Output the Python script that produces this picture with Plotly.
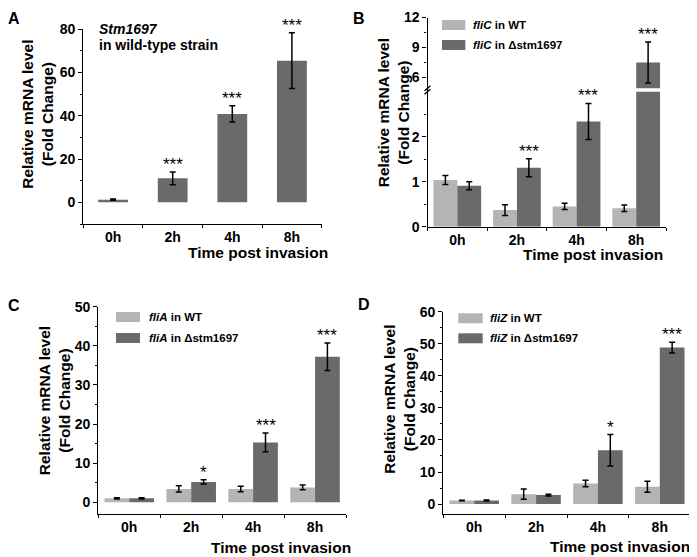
import plotly.graph_objects as go

W, H = 697, 557
OFF = 8  # page body margin offset compensation

categories = ["0h", "2h", "4h", "8h"]

# Panel A: Stm1697 in wild-type strain
a_values = [1.25, 11.1, 40.9, 65.5]
a_err = [0.3, 2.9, 3.8, 12.9]
a_stars = ["", "***", "***", "***"]

# Panel B: fliC
b_wt = [1.04, 0.37, 0.45, 0.41]
b_wt_err = [0.10, 0.12, 0.07, 0.07]
b_mut = [0.91, 1.31, 2.34, 7.5]
b_mut_err = [0.09, 0.20, 0.40, 2.05]
b_stars = ["", "***", "***", "***"]

# Panel C: fliA
c_wt = [1.0, 3.4, 3.4, 3.8]
c_wt_err = [0.15, 0.8, 0.7, 0.6]
c_mut = [1.0, 5.2, 15.3, 37.2]
c_mut_err = [0.15, 0.55, 2.4, 3.5]
c_stars = ["", "*", "***", "***"]

# Panel D: fliZ
d_wt = [1.1, 3.1, 6.4, 5.4]
d_wt_err = [0.1, 1.6, 1.0, 1.7]
d_mut = [1.1, 2.8, 16.8, 48.8]
d_mut_err = [0.15, 0.3, 4.9, 1.7]
d_stars = ["", "", "*", "***"]

LIGHT = "#b4b4b4"
DARK = "#6a6a6a"
FONT = "Liberation Sans, Arial, sans-serif"


def fx(p):
    return (p - OFF) / W


def fy(p):
    return 1 - (p - OFF) / H


fig = go.Figure()

err_style = dict(type="data", symmetric=True, color="black", thickness=1.5, width=3)


def add_bar(x_ax, y_ax, vals, errs, color, offset, width):
    fig.add_trace(go.Bar(
        x=categories, y=vals, xaxis=x_ax, yaxis=y_ax,
        marker=dict(color=color, line=dict(width=0)),
        offset=offset, width=width,
        error_y=dict(array=errs, **err_style),
        showlegend=False,
    ))


# A
add_bar("x", "y", a_values, a_err, DARK, -0.25, 0.5)
# B lower + upper (broken axis)
add_bar("x2", "y2", b_wt, b_wt_err, LIGHT, -0.4, 0.4)
add_bar("x2", "y2", b_mut, b_mut_err, DARK, 0.0, 0.4)
add_bar("x2", "y3", b_wt, b_wt_err, LIGHT, -0.4, 0.4)
add_bar("x2", "y3", b_mut, b_mut_err, DARK, 0.0, 0.4)
# C
add_bar("x3", "y4", c_wt, c_wt_err, LIGHT, -0.4, 0.4)
add_bar("x3", "y4", c_mut, c_mut_err, DARK, 0.0, 0.4)
# D
add_bar("x4", "y5", d_wt, d_wt_err, LIGHT, -0.4, 0.4)
add_bar("x4", "y5", d_mut, d_mut_err, DARK, 0.0, 0.4)

tickfont = dict(family=FONT, size=14, color="black", weight="bold")
common = dict(showline=True, linecolor="black", linewidth=1.3, ticks="outside",
              tickwidth=1.2, tickcolor="black", showgrid=False, zeroline=False,
              tickfont=tickfont, fixedrange=True, automargin=False)


def xaxis(dom, anchor):
    return dict(domain=[fx(dom[0]), fx(dom[1])], anchor=anchor, type="category",
                categoryorder="array", categoryarray=categories,
                range=[-0.5, 3.5], tickson="boundaries", ticklen=3, **common)


def yaxis(dom, anchor, rng, dtick, minor, tickvals=None):
    d = dict(domain=[fy(dom[1]), fy(dom[0])], anchor=anchor, range=rng, ticklen=4,
             minor=dict(ticks="outside", ticklen=2, tickcolor="black", showgrid=False, **minor),
             **common)
    if tickvals is not None:
        d["tickmode"] = "array"
        d["tickvals"] = tickvals
    else:
        d["dtick"] = dtick
        d["tick0"] = 0
    return d


fig.update_layout(
    width=W, height=H, margin=dict(l=0, r=0, t=0, b=0, autoexpand=False),
    paper_bgcolor="white", plot_bgcolor="rgba(0,0,0,0)",
    barmode="overlay", showlegend=False,
    font=dict(family=FONT, color="black"),
    xaxis=xaxis((83.3, 321.7), "y"),
    yaxis=yaxis((29.3, 224.0), "x", [-10, 80], 20, dict(dtick=10, tick0=0)),
    xaxis2=xaxis((427.5, 666.0), "y2"),
    yaxis2=yaxis((91.7, 226.7), "x2", [0, 3], 1,
                 dict(tickmode="array", tickvals=[0.5, 1.5, 2.5]), tickvals=[0, 1, 2]),
    yaxis3=yaxis((17.5, 88.3), "x2", [4.92, 12], 3,
                 dict(tickmode="array", tickvals=[7.5, 10.5]), tickvals=[6, 9, 12]),
    xaxis3=xaxis((98.3, 346.0), "y4"),
    yaxis4=yaxis((306.7, 514.0), "x3", [-3, 50], 10, dict(dtick=5, tick0=0)),
    xaxis4=xaxis((443.3, 690.7), "y5"),
    yaxis5=yaxis((311.7, 513.7), "x4", [-3, 60], 10, dict(dtick=5, tick0=0)),
)

ann = []
shapes = []


def paper_text(text, x, y, size, xanchor="center", yanchor="middle", angle=0, weight="bold"):
    ann.append(dict(text=text, x=fx(x), y=fy(y), xref="paper", yref="paper",
                    xanchor=xanchor, yanchor=yanchor, showarrow=False, textangle=angle,
                    font=dict(family=FONT, size=size, color="black", weight=weight)))


# panel letters
paper_text("A", 14, 8, 16, yanchor="top")
paper_text("B", 359, 8, 16, yanchor="top")
paper_text("C", 14, 305, 16)
paper_text("D", 364, 304, 16)

# y titles
ytitle = "Relative mRNA level<br>(Fold Change)"
paper_text(ytitle, 36.8, 114, 15.5, angle=-90)
paper_text(ytitle, 393.3, 113, 15.5, angle=-90)
paper_text(ytitle, 54.2, 401, 15.5, angle=-90)
paper_text(ytitle, 398.8, 399, 15.5, angle=-90)

# x titles
xtitle = "Time post invasion"
paper_text(xtitle, 330, 252, 15.5, xanchor="right")
paper_text(xtitle, 665, 255, 15.5, xanchor="right")
paper_text(xtitle, 353, 547.5, 15.5, xanchor="right")
paper_text(xtitle, 692, 546.5, 15.5, xanchor="right")

# panel A label
paper_text("<i>Stm1697</i>", 96.7, 29.3, 14, xanchor="left")
paper_text("in wild-type strain", 96.7, 45, 14, xanchor="left")


# legends (patches + text)
def legend(x0, x1, y1, y2, gene, tx):
    for yc, col, lab in ((y1, LIGHT, f"<i>{gene}</i> in WT"),
                         (y2, DARK, f"<i>{gene}</i> in \u0394stm1697")):
        shapes.append(dict(type="rect", xref="paper", yref="paper",
                           x0=fx(x0), x1=fx(x1), y0=fy(yc + 5), y1=fy(yc - 5),
                           fillcolor=col, line=dict(width=0)))
        paper_text(lab, tx, yc, 11.5, xanchor="left")


legend(442, 465.3, 25, 45, "fliC", 471)
legend(116, 140, 317, 338, "fliA", 147)
legend(458.3, 482.7, 318.3, 338.3, "fliZ", 488)


# significance stars
def stars(labels, vals, errs, xref, yref_fn, off):
    for i, s in enumerate(labels):
        if not s:
            continue
        top = vals[i] + errs[i]
        ann.append(dict(text=s, x=i + off, y=top, xref=xref, yref=yref_fn(top),
                        xanchor="center", yanchor="bottom", showarrow=False, yshift=-4,
                        font=dict(family=FONT, size=17, color="black")))


stars(a_stars, a_values, a_err, "x", lambda v: "y", 0.0)
stars(b_stars, b_mut, b_mut_err, "x2", lambda v: "y3" if v > 3 else "y2", 0.2)
stars(c_stars, c_mut, c_mut_err, "x3", lambda v: "y4", 0.2)
stars(d_stars, d_mut, d_mut_err, "x4", lambda v: "y5", 0.2)

# axis break marks on panel B
for dy in (-1.8, 1.8):
    shapes.append(dict(type="line", xref="paper", yref="paper",
                       x0=fx(424.5), x1=fx(430.5), y0=fy(92.5 + dy), y1=fy(87.5 + dy),
                       line=dict(color="black", width=1.2)))
shapes.append(dict(type="line", xref="paper", yref="paper",
                   x0=fx(427.5), x1=fx(427.5), y0=fy(91.7), y1=fy(88.3),
                   line=dict(color="black", width=1.3)))

fig.update_layout(annotations=ann, shapes=shapes)

fig.write_html("out.html")
